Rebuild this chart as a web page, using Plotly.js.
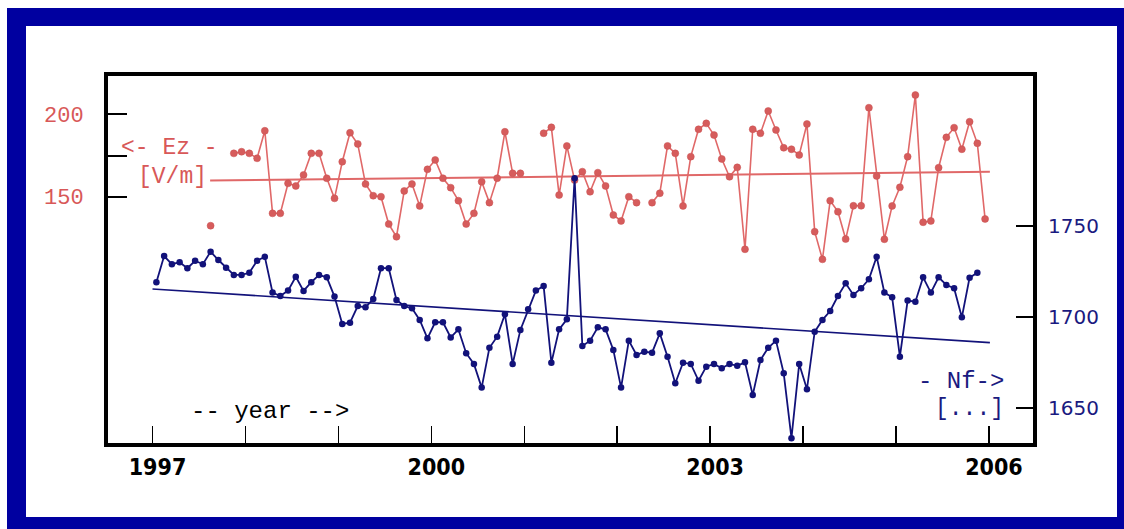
<!DOCTYPE html>
<html><head><meta charset="utf-8">
<script src="https://cdn.plot.ly/plotly-3.0.1.min.js"></script>
<style>
html,body{margin:0;padding:0;background:#fff;}
#wrap{position:relative;width:1124px;height:529px;overflow:hidden;}
#chart{position:absolute;left:0;top:0;width:1124px;height:529px;}
#frame{position:absolute;left:7px;top:8px;right:0;bottom:0;box-sizing:border-box;border-style:solid;border-color:#0000a0;border-width:18px 7px 12px 19px;pointer-events:none;}
</style></head>
<body><div id="wrap"><div id="chart"></div><div id="frame"></div></div>
<script>
// monthly series starting January 1997 (one value per month)
const startYear = 1997;

// Ez [V/m] (left axis), null = no data
const ezValues = [
  null, null, null, null, null, null, null, 132.4, null, null, 176.3, 177.3,
  176.3, 173.3, 190.0, 139.9, 139.9, 158.1, 156.5, 163.2, 176.3, 176.3, 161.2, 149.0,
  171.2, 188.8, 182.0, 157.7, 150.6, 150.0, 133.4, 125.7, 153.5, 157.7, 144.4, 166.6,
  172.3, 161.2, 155.5, 147.6, 133.4, 139.9, 159.1, 146.4, 161.2, 189.4, 164.2, 164.2,
  null, null, 188.5, 192.1, 151.0, 180.8, 160.1, 165.2, 153.0, 164.6, 156.5, 138.9,
  135.3, 150.0, 146.4, null, 146.4, 152.1, 180.8, 176.3, 144.4, 174.3, 190.9, 194.5,
  187.4, 172.9, 162.1, 167.8, 118.1, 190.9, 188.5, 202.0, 190.5, 179.7, 178.8, 175.3,
  194.1, 128.8, 112.0, 147.6, 140.9, 124.3, 144.5, 144.5, 204.0, 162.6, 124.2, 144.4,
  155.7, 174.3, 211.7, 134.5, 135.3, 167.6, 186.0, 191.9, 178.8, 195.5, 182.4, 136.5
];

// Nf [...] (right axis)
const nfValues = [
  1719.1, 1733.5, 1729.0, 1730.1, 1726.8, 1730.9, 1729.0, 1735.9, 1731.3, 1727.1, 1723.1, 1723.1,
  1724.3, 1730.9, 1733.1, 1713.4, 1711.5, 1714.5, 1722.1, 1714.3, 1719.1, 1723.1, 1721.8, 1711.2,
  1696.2, 1696.9, 1706.0, 1705.3, 1709.9, 1726.8, 1726.8, 1709.3, 1706.0, 1704.8, 1698.4, 1688.3,
  1697.1, 1697.1, 1688.8, 1693.2, 1680.1, 1674.2, 1661.2, 1683.1, 1689.2, 1701.5, 1674.2, 1692.9,
  1704.2, 1714.5, 1717.0, 1674.9, 1693.2, 1698.7, 1776.2, 1684.1, 1687.0, 1694.3, 1693.2, 1681.9,
  1661.2, 1687.0, 1679.1, 1680.9, 1680.4, 1691.0, 1678.2, 1663.6, 1674.9, 1674.2, 1665.0, 1672.7,
  1674.2, 1671.8, 1674.2, 1673.2, 1675.1, 1657.1, 1676.4, 1683.1, 1687.0, 1669.1, 1633.4, 1674.2,
  1660.3, 1691.9, 1698.4, 1703.3, 1711.5, 1718.5, 1712.1, 1715.8, 1720.7, 1733.1, 1713.4, 1710.8,
  1678.2, 1709.0, 1708.4, 1721.8, 1713.4, 1721.8, 1717.6, 1715.8, 1699.8, 1721.6, 1724.3
];

// linear trend lines (end points)
const ezTrendX = [1997.62, 2006.01];
const ezTrendY = [159.8, 165.2];
const nfTrendX = [1997.0, 2006.01];
const nfTrendY = [1715.4, 1685.9];

// axis ticks
const yearTicks  = [1997, 1998, 1999, 2000, 2001, 2002, 2003, 2004, 2005, 2006];
const yearLabels = ['1997', '', '', '2000', '', '', '2003', '', '', '2006'];
const ezTicks  = [150, 175, 200];
const ezLabels = ['150', '', '200'];
const nfTicks  = [1650, 1700, 1750];

const monthX = n => Array.from({length: n}, (_, i) => startYear + (i + 0.5) / 12);

const RED = '#e06868';
const RED_M = '#d65c5c';
const NAVY = '#12127a';

const traces = [
  {x: ezTrendX, y: ezTrendY, type: 'scatter', mode: 'lines', yaxis: 'y',
   line: {color: RED, width: 2}, hoverinfo: 'skip'},
  {x: monthX(ezValues.length), y: ezValues, type: 'scatter', mode: 'lines+markers', yaxis: 'y',
   connectgaps: false, line: {color: RED, width: 1.6},
   marker: {color: RED_M, size: 7, line: {color: '#c85050', width: 0.5}}},
  {x: nfTrendX, y: nfTrendY, type: 'scatter', mode: 'lines', yaxis: 'y2',
   line: {color: NAVY, width: 1.6}, hoverinfo: 'skip'},
  {x: monthX(nfValues.length), y: nfValues, type: 'scatter', mode: 'lines+markers', yaxis: 'y2',
   line: {color: NAVY, width: 1.8},
   marker: {color: NAVY, size: 6.5}}
];

const L = 108, R = 1033, T = 76, B = 443;
const px = v => (v - L) / (R - L);
const py = v => (B - v) / (B - T);
const monoFont = (size, color) => ({family: 'Liberation Mono, DejaVu Sans Mono, monospace', size: size, color: color});

const layout = {
  width: 1124, height: 529,
  margin: {l: L, r: 1124 - R, t: T, b: 529 - B, pad: 0},
  paper_bgcolor: '#ffffff', plot_bgcolor: '#ffffff',
  showlegend: false,
  xaxis: {
    range: [1996.521, 2006.474], tickmode: 'array', tickvals: yearTicks, ticktext: yearLabels,
    ticks: 'inside', ticklen: 17, tickwidth: 1.5, tickcolor: '#000',
    showline: true, linewidth: 4, linecolor: '#000', mirror: true,
    showgrid: false, zeroline: false, ticklabelstandoff: 0, ticklabelshift: 5,
    tickfont: {family: 'DejaVu Sans Condensed, DejaVu Sans, sans-serif', size: 23, color: '#000', weight: 'bold'}
  },
  yaxis: {
    range: [0.55, 223.24], tickmode: 'array', tickvals: ezTicks, ticktext: ezLabels,
    ticks: 'inside', ticklen: 19, tickwidth: 2, tickcolor: '#000',
    showline: true, linewidth: 4, linecolor: '#000', mirror: true,
    showgrid: false, zeroline: false, ticklabelstandoff: 16,
    tickfont: monoFont(22, '#d85858')
  },
  yaxis2: {
    overlaying: 'y', side: 'right',
    range: [1630.77, 1832.4], tickmode: 'array', tickvals: nfTicks,
    ticks: 'inside', ticklen: 17, tickwidth: 2, tickcolor: '#000',
    showline: false, showgrid: false, zeroline: false, ticklabelstandoff: 14,
    tickfont: {family: 'DejaVu Sans, sans-serif', size: 20, color: '#1a1a80'}
  },
  annotations: [
    {text: '&lt;- Ez -', xref: 'paper', yref: 'paper', x: px(119), y: py(148.3), xanchor: 'left', yanchor: 'middle', showarrow: false, font: monoFont(23, '#d85858')},
    {text: '[V/m]', xref: 'paper', yref: 'paper', x: px(135.5), y: py(176.7), xanchor: 'left', yanchor: 'middle', showarrow: false, font: monoFont(23, '#d85858')},
    {text: '-- year --&gt;', xref: 'paper', yref: 'paper', x: px(189), y: py(411.7), xanchor: 'left', yanchor: 'middle', showarrow: false, font: monoFont(24, '#000')},
    {text: '- Nf-&gt;', xref: 'paper', yref: 'paper', x: px(1006), y: py(381.7), xanchor: 'right', yanchor: 'middle', showarrow: false, font: monoFont(24, '#1a1a80')},
    {text: '[...]', xref: 'paper', yref: 'paper', x: px(1006), y: py(409.3), xanchor: 'right', yanchor: 'middle', showarrow: false, font: monoFont(23, '#1a1a80')}
  ]
};

Plotly.newPlot('chart', traces, layout, {displayModeBar: false, staticPlot: true});
</script>
</body></html>
